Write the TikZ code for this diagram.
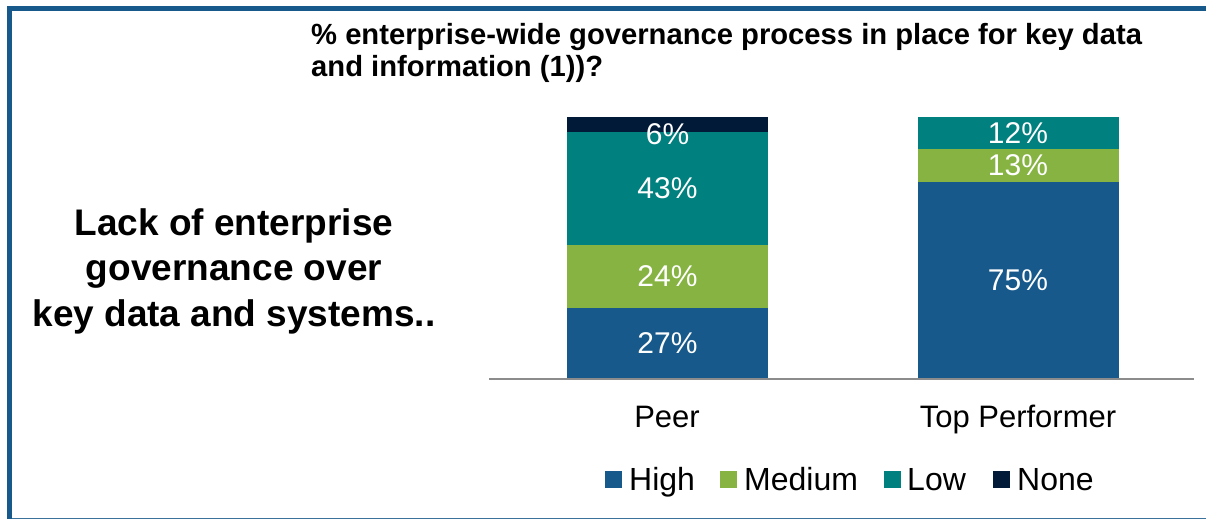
\documentclass[tikz,border=0pt]{standalone}
\usepackage{fontspec}
\setmainfont{Liberation Sans}
\usetikzlibrary{positioning}

\definecolor{highc}{RGB}{23,89,138}
\definecolor{medc}{RGB}{134,179,65}
\definecolor{lowc}{RGB}{0,128,126}
\definecolor{nonec}{RGB}{0,26,56}
\definecolor{axisc}{RGB}{140,140,140}

\begin{document}
\begin{tikzpicture}
        [
            x=1pt, y=-1pt,
            seg/.style = {shape=rectangle, minimum width=201pt, inner sep=0pt, text=white, font=\fontsize{30}{36}\selectfont},
            key/.style = {shape=rectangle, minimum width=17pt, minimum height=17pt, inner sep=0pt},
            keytext/.style = {anchor=base west, inner sep=0pt, font=\fontsize{32}{38}\selectfont},
            cat/.style = {anchor=base, inner sep=0pt, font=\fontsize{31}{37}\selectfont},
            heading/.style = {anchor=base west, inner sep=0pt, font=\bfseries\fontsize{29.2}{32}\selectfont},
        ]
        \useasboundingbox (0,0) rectangle (1206,520);

        % frame
        \fill[highc] (7,6) rectangle (1206,11);
        \fill[highc] (7,6) rectangle (12,519);
        \draw[highc!85, line width=1.5pt] (12,518.5) -- (1206,518.5);

        % title and left caption
        \node[heading] (title1) at (311,44) {\% enterprise-wide governance process in place for key data};
        \node[heading] (title2) at (311,76) {and information (1))?};
        \node[align=center, inner sep=0pt, font=\bfseries\fontsize{37}{45.5}\selectfont] (lack) at (234,271)
            {Lack of enterprise\\governance over\\key data and systems..};

        % Peer bar
        \node[seg, fill=nonec, minimum height=15pt] (peernone) at (667.5,124.5) {};
        \node[seg, fill=lowc, minimum height=113pt] (peerlow) at (667.5,188.5) {43\%};
        \node[seg, fill=medc, minimum height=63pt] (peermed) at (667.5,276.5) {24\%};
        \node[seg, fill=highc, minimum height=70pt] (peerhigh) at (667.5,343) {27\%};
        \node[seg, text=white] (peernonelab) at (667.5,134) {6\%};

        % Top performer bar
        \node[seg, fill=lowc, minimum height=32pt] (toplow) at (1018,133) {12\%};
        \node[seg, fill=medc, minimum height=33pt] (topmed) at (1018,165.5) {13\%};
        \node[seg, fill=highc, minimum height=196pt] (tophigh) at (1018,280) {75\%};

        % axis
        \coordinate (axl) at (489,378.5);
        \coordinate (axr) at (1194,378.5);
        \draw[axisc, line width=2pt] (axl) -- (axr);

        \node[cat] (peer) at (667,427) {Peer};
        \node[cat] (top) at (1018,427) {Top Performer};

        % legend
        \node[key, fill=highc] (khigh) at (613,479.5) {};
        \node[keytext] (thigh) at (629,490) {High};
        \node[key, fill=medc] (kmed) at (728.5,479.5) {};
        \node[keytext] (tmed) at (744,490) {Medium};
        \node[key, fill=lowc] (klow) at (892,479.5) {};
        \node[keytext] (tlow) at (907,490) {Low};
        \node[key, fill=nonec] (knone) at (1001.5,479.5) {};
        \node[keytext] (tnone) at (1017,490) {None};
    \end{tikzpicture}
\end{document}
